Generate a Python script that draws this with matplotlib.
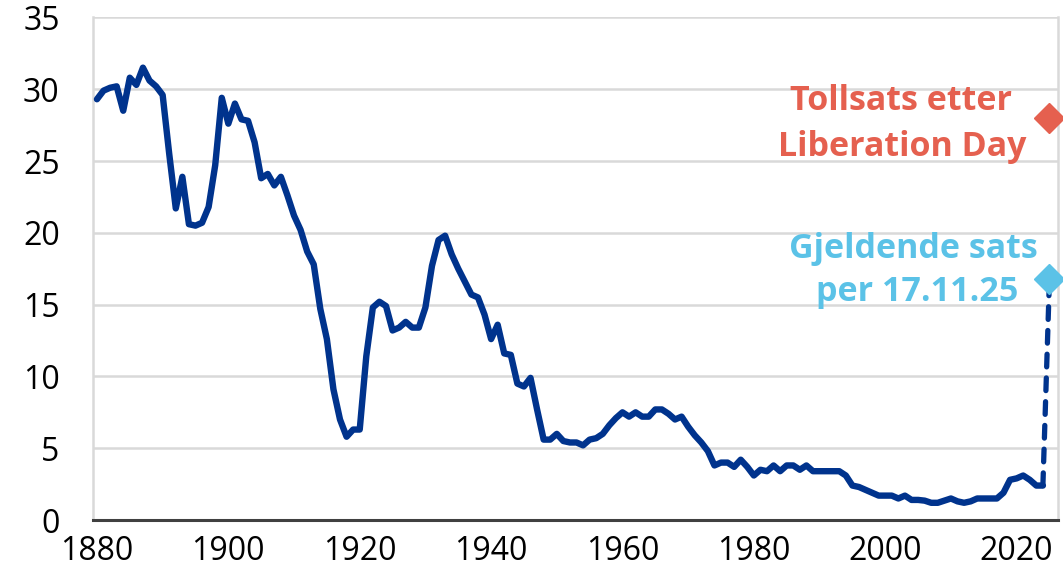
import matplotlib
matplotlib.use("Agg")
import matplotlib.pyplot as plt

years = list(range(1880, 2025))
rates = [
    29.3, 29.9, 30.1, 30.2, 28.5, 30.8, 30.3, 31.5, 30.6, 30.2,   # 1880-1889
    29.6, 25.5, 21.7, 23.9, 20.6, 20.5, 20.7, 21.8, 24.7, 29.4,   # 1890-1899
    27.6, 29.0, 27.9, 27.8, 26.3, 23.8, 24.1, 23.3, 23.9, 22.6,   # 1900-1909
    21.2, 20.2, 18.7, 17.8, 14.7, 12.6, 9.1, 7.0, 5.8, 6.3,       # 1910-1919
    6.3, 11.4, 14.8, 15.2, 14.9, 13.2, 13.4, 13.8, 13.4, 13.4,    # 1920-1929
    14.8, 17.7, 19.5, 19.8, 18.5, 17.5, 16.6, 15.7, 15.5, 14.3,   # 1930-1939
    12.6, 13.6, 11.6, 11.5, 9.5, 9.3, 9.9, 7.7, 5.6, 5.6,         # 1940-1949
    6.0, 5.5, 5.4, 5.4, 5.2, 5.6, 5.7, 6.0, 6.6, 7.1,             # 1950-1959
    7.5, 7.2, 7.5, 7.2, 7.2, 7.7, 7.7, 7.4, 7.0, 7.2,             # 1960-1969
    6.5, 5.9, 5.4, 4.8, 3.8, 4.0, 4.0, 3.7, 4.2, 3.7,             # 1970-1979
    3.1, 3.5, 3.4, 3.8, 3.4, 3.8, 3.8, 3.5, 3.8, 3.4,             # 1980-1989
    3.4, 3.4, 3.4, 3.4, 3.1, 2.4, 2.3, 2.1, 1.9, 1.7,             # 1990-1999
    1.7, 1.7, 1.5, 1.7, 1.4, 1.4, 1.35, 1.2, 1.2, 1.35,           # 2000-2009
    1.5, 1.3, 1.2, 1.3, 1.5, 1.5, 1.5, 1.5, 1.9, 2.8,             # 2010-2019
    2.9, 3.1, 2.8, 2.4, 2.4,                                      # 2020-2024
]

dash_years = [2024, 2025]
dash_rates = [2.4, 16.8]

liberation_year = 2025
liberation_rate = 28.0
current_year = 2025
current_rate = 16.8

red_lines = ["Tollsats etter", "Liberation Day"]
blue_lines = ["Gjeldende sats", "per 17.11.25"]

xticks = [1880, 1900, 1920, 1940, 1960, 1980, 2000, 2020]
yticks = [0, 5, 10, 15, 20, 25, 30, 35]

navy = "#00338D"
red = "#E5604F"
lightblue = "#5BC2E7"

fig = plt.figure(figsize=(10.63, 5.80), dpi=100)
ax = fig.add_axes([0.0875, 0.1034, 0.9078, 0.8666])

ax.plot(years, rates, color=navy, lw=4.6, solid_capstyle="round",
        solid_joinstyle="round", zorder=3)
ax.plot(dash_years, dash_rates, color=navy, lw=3.8,
        linestyle=(0, (2.4, 2.1)), dash_capstyle="round", zorder=3)
ax.plot([liberation_year], [liberation_rate], marker="D", ms=15, color=red,
        mec=red, ls="none", zorder=4, clip_on=False)
ax.plot([current_year], [current_rate], marker="D", ms=15, color=lightblue,
        mec=lightblue, ls="none", zorder=4, clip_on=False)

txt = dict(fontsize=24.5, fontweight="bold", family="Open Sans",
           ha="center", va="center")
ax.text(2002.4, 29.15, red_lines[0], color=red, **txt)
ax.text(2002.6, 26.0, red_lines[1], color=red, **txt)
ax.text(2004.3, 18.85, blue_lines[0], color=lightblue, **txt)
ax.text(2004.9, 15.9, blue_lines[1], color=lightblue, **txt)

ax.set_xlim(1879.4, 2026.3)
ax.set_ylim(0, 35)
ax.set_xticks(xticks)
ax.set_yticks(yticks)
ax.set_xticklabels([str(t) for t in xticks], family="Open Sans", fontsize=23)
ax.set_yticklabels([str(t) for t in yticks], family="Open Sans", fontsize=23)
ax.tick_params(axis="both", length=0)
ax.tick_params(axis="y", pad=24)
ax.tick_params(axis="x", pad=11)

ax.grid(axis="y", color="#D9D9D9", lw=1.8, zorder=0)
ax.set_axisbelow(True)
for side in ["left", "right", "top"]:
    ax.spines[side].set_color("#D9D9D9")
    ax.spines[side].set_linewidth(1.8)
ax.spines["top"].set_visible(False)
ax.spines["bottom"].set_color("#404040")
ax.spines["bottom"].set_linewidth(2.2)

fig.savefig("out.png", dpi=100)
